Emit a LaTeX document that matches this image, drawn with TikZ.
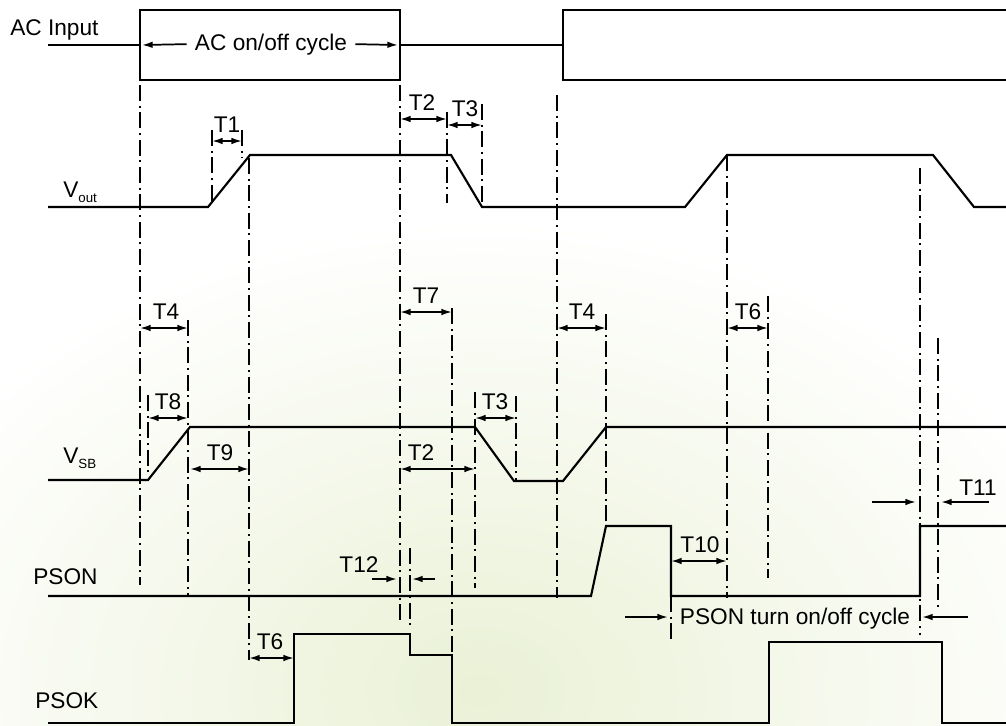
\documentclass[tikz,border=0pt]{standalone}
\usepackage{fontspec}
\setmainfont{Liberation Sans}
\usetikzlibrary{arrows.meta}

\definecolor{bggreen}{RGB}{234,241,214}
\newcommand{\sigsub}[1]{\raisebox{-4pt}{\fontsize{10}{10}\selectfont #1}}

\tikzset{
  sig/.style={line width=1.6pt},
  guide/.style={line width=1.2pt, dash pattern=on 12pt off 3.5pt on 1.5pt off 3.5pt},
  dim/.style={line width=1.3pt, {Latex[length=8pt,width=5pt]}-{Latex[length=8pt,width=5pt]}},
  ptr/.style={line width=1.3pt, -{Latex[length=8pt,width=5pt]}},
  lab/.style={font=\fontsize{17}{17}\selectfont, inner sep=0pt, anchor=base},
  sname/.style={lab, anchor=base west}
}

\begin{document}
\begin{tikzpicture}[x={(0.75pt,0pt)},y={(0pt,-0.75pt)}]
  \useasboundingbox (0,0) rectangle (1006,725);
  % background glow
  \begin{scope}
    \clip (0,0) rectangle (1006,725);
    \fill[white] (0,0) rectangle (1006,725);
    \shade[inner color=bggreen, outer color=white] (480,690) ellipse (640 and 470);
  \end{scope}

  % signal names
  \node[sname] (acin) at (10,35) {AC Input};
  \node[sname] (vout) at (63,197) {V\sigsub{out}};
  \node[sname] (vsb) at (63,463) {V\sigsub{SB}};
  \node[sname] (pson) at (33,584) {PSON};
  \node[sname] (psok) at (35,708) {PSOK};

  % waveforms
  \draw[sig] (48,45)--(140,45) (140,10) rectangle (400,80) (400,45)--(563,45);
  \draw[sig] (1010,10)--(563,10)--(563,80)--(1010,80);
  \draw[sig] (48,207)--(208,207)--(250,155)--(451,155)--(482,207)--(685,207)--(727,155)--(933,155)--(974,207)--(1010,207);
  \draw[sig] (48,480)--(148,480)--(190,427)--(475,427)--(514,481)--(563,481)--(606,427)--(1010,427);
  \draw[sig] (48,596)--(591,596)--(606,526)--(671,526)--(671,596)--(920,596)--(920,526)--(1010,526);
  \draw[sig] (48,723)--(294,723)--(294,634)--(410,634)--(410,655)--(452,655)--(452,723)--(769,723)--(769,642)--(942,642)--(942,723)--(1010,723);

  % timing guides
  \foreach \gx/\ga/\gb in {140/85/585, 148/395/475, 188/320/596, 212/130/203, 242/130/158,
      249/158/660, 400/85/623, 410/548/628, 447/112/203, 452/308/655, 475/392/588,
      482/104/207, 516/396/482, 557/95/598, 606/314/526, 671/596/640, 727/155/598,
      768/296/578, 920/168/635, 938/338/610}{
    \draw[guide] (\gx,\ga)--(\gx,\gb);}

  % intervals
  \foreach \xa/\xb/\yy/\xl/\tl [count=\i] in {212/242/141/227/T1, 400/447/119/422/T2, 447/482/125/465/T3,
      140/188/328/166/T4, 148/188/418/168/T8, 190/249/469/220/T9, 400/452/312/426/T7,
      400/475/469/421/T2, 475/516/418/495/T3, 557/606/328/582/T4, 727/768/328/748/T6,
      671/727/561/700/T10, 249/294/658/270/T6}{
    \draw[dim] (\xa,\yy)--(\xb,\yy);
    \node[lab] (dl\i) at (\xl,\yy-9) {\tl};}

  \node[lab] (accycle) at (271,50) {AC on/off cycle};
  \draw[ptr] ([xshift=-6pt]accycle.west)--(142,45);
  \draw[ptr] ([xshift=6pt]accycle.east)--(398,45);

  \node[lab] (t11) at (978,495) {T11};
  \draw[ptr] (872,502)--(916,502);
  \draw[ptr] (989,502)--(941,502);

  \node[lab] (t12) at (359,572) {T12};
  \draw[ptr] (372,579)--(397,579);
  \draw[ptr] (435,579)--(412,579);

  \node[lab] (psoncycle) at (795,624) {PSON turn on/off cycle};
  \draw[ptr] (625,617)--(668,617);
  \draw[ptr] (968,617)--(922,617);
\end{tikzpicture}
\end{document}
